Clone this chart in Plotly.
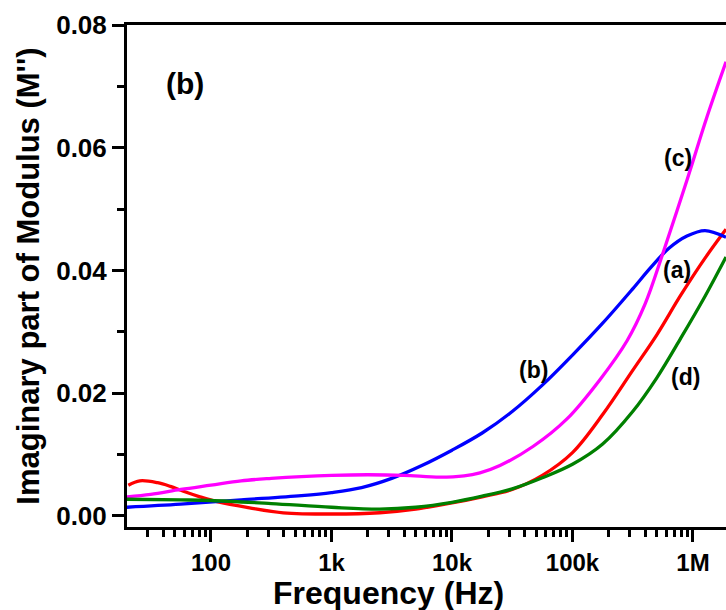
import plotly.graph_objects as go

# ---- data (frequency in Hz, M'') ----
freq_a = [20.6, 25.7, 36, 46, 59, 81, 112, 209, 398, 1020, 2510, 5010, 10000, 17800,
          31600, 56200, 100000, 178000, 316000, 501000, 794000, 1259000, 1880000]
m_a = [0.0050, 0.0057, 0.0054, 0.0048, 0.0040, 0.0031, 0.0023, 0.0013, 0.0005, 0.0003,
       0.0005, 0.0011, 0.0021, 0.0031, 0.0043, 0.0066, 0.0103, 0.0165, 0.0237, 0.0295,
       0.0360, 0.0420, 0.0467]

freq_b = [20, 56, 178, 562, 1000, 1778, 3160, 5620, 10000, 17800, 31600, 56200, 100000,
          178000, 316000, 447000, 631000, 891000, 1259000, 1880000]
m_b = [0.0014, 0.0019, 0.0026, 0.0033, 0.0038, 0.0046, 0.0061, 0.0082, 0.0107, 0.0135,
       0.0170, 0.0213, 0.0262, 0.0314, 0.0370, 0.0405, 0.0436, 0.0456, 0.0465, 0.0454]

freq_c = [20, 31.6, 56.2, 100, 178, 316, 562, 1000, 2000, 3980, 7940, 12600, 17060,
          25000, 47000, 90000, 169000, 283000, 400000, 563000, 891000, 1306000, 1880000]
m_c = [0.0031, 0.0035, 0.0043, 0.0050, 0.0057, 0.0061, 0.0064, 0.0066, 0.0067, 0.0066,
       0.0063, 0.0065, 0.0070, 0.0082, 0.0113, 0.0158, 0.0222, 0.0285, 0.0345, 0.0428,
       0.0547, 0.0650, 0.0740]

freq_d = [20, 56.2, 100, 316, 1000, 2510, 5010, 10000, 17800, 31600, 56200, 100000,
          178000, 316000, 501000, 794000, 1259000, 1880000]
m_d = [0.0027, 0.0026, 0.0025, 0.0020, 0.0014, 0.0011, 0.0014, 0.0022, 0.0032, 0.0044,
       0.0062, 0.0084, 0.0117, 0.0170, 0.0225, 0.0290, 0.0358, 0.0422]

x_tickvals = [100, 1000, 10000, 100000, 1000000]
x_ticktext = ["100", "1k", "10k", "100k", "1M"]
y_tickvals = [0.00, 0.02, 0.04, 0.06, 0.08]
y_ticktext = ["0.00", "0.02", "0.04", "0.06", "0.08"]

series = [
    (freq_a, m_a, "#ff0000", "(a)"),
    (freq_b, m_b, "#0000ff", "(b)"),
    (freq_c, m_c, "#ff00ff", "(c)"),
    (freq_d, m_d, "#008000", "(d)"),
]

FONT = "Arial, 'Liberation Sans', sans-serif"

fig = go.Figure()
for fx, my, col, name in series:
    fig.add_trace(go.Scatter(x=fx, y=my, mode="lines", name=name,
                             line=dict(color=col, width=3.3, shape="spline", smoothing=1.0)))

fig.update_layout(
    width=726, height=610,
    margin=dict(l=127, r=0, t=25, b=83),
    plot_bgcolor="white", paper_bgcolor="white",
    showlegend=False,
    font=dict(family=FONT, color="black"),
)

fig.update_xaxes(
    type="log", range=[1.303, 6.274],
    tickvals=x_tickvals, ticktext=x_ticktext,
    tickfont=dict(family=FONT, size=24, color="black", weight="bold"),
    ticks="outside", ticklen=12, tickwidth=3, tickcolor="black",
    showline=True, linewidth=3, linecolor="black", mirror=True,
    showgrid=False, zeroline=False,
    minor=dict(ticks="outside", ticklen=7, tickwidth=2.5, tickcolor="black",
               dtick="D1", showgrid=False),
)

fig.update_yaxes(
    range=[-0.00182, 0.08],
    tickvals=y_tickvals, ticktext=y_ticktext,
    tickfont=dict(family=FONT, size=26, color="black", weight="bold"),
    ticks="outside", ticklen=12, tickwidth=3, tickcolor="black",
    showline=True, linewidth=3, linecolor="black", mirror=False,
    showgrid=False, zeroline=False,
    minor=dict(ticks="outside", ticklen=7, tickwidth=2.5, tickcolor="black",
               dtick=0.01, showgrid=False),
    title=dict(text="Imaginary part of Modulus (M'')",
               font=dict(family=FONT, size=31, color="black", weight="bold"), standoff=8),
)

# x-axis title (centred as in the cropped original, left of the plot centre)
fig.add_annotation(text="Frequency (Hz)", x=0.437, y=-0.132, xref="paper", yref="paper",
                   showarrow=False, xanchor="center", yanchor="middle",
                   font=dict(family=FONT, size=32, color="black", weight="bold"))

labels = [
    ("(b)", 0.097, 0.884, 30),
    ("(c)", 0.920, 0.735, 23),
    ("(a)", 0.918, 0.512, 23),
    ("(b)", 0.678, 0.313, 23),
    ("(d)", 0.932, 0.299, 23),
]
for txt, px, py, sz in labels:
    fig.add_annotation(text=txt, x=px, y=py, xref="paper", yref="paper",
                       showarrow=False, xanchor="center", yanchor="middle",
                       font=dict(family=FONT, size=sz, color="black", weight="bold"))

fig.write_html("out.html")
